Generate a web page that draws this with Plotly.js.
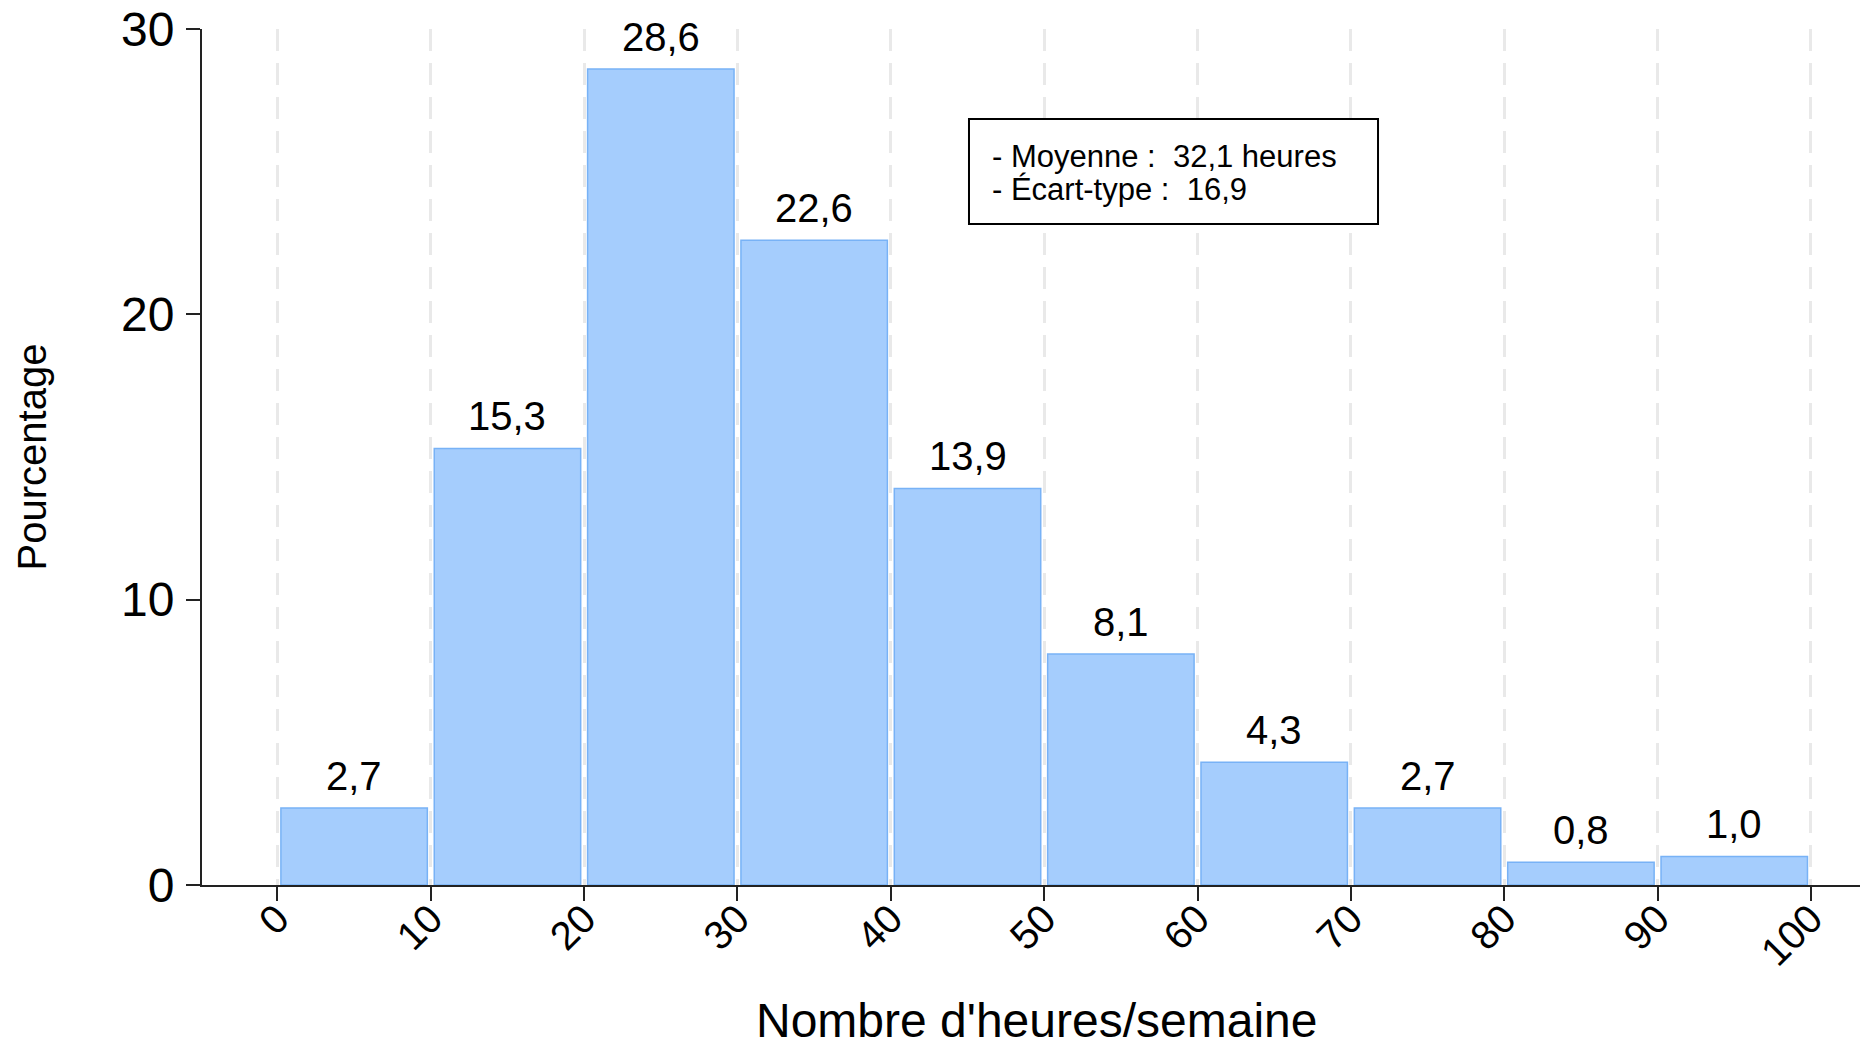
<!DOCTYPE html>
<html>
<head>
<meta charset="utf-8">
<script src="https://cdn.plot.ly/plotly-3.0.1.min.js"></script>
<style>html,body{margin:0;padding:0;background:#fff;}#chart{width:1860px;height:1049px;}</style>
</head>
<body>
<div id="chart"></div>
<script>
// Data
const binStarts = [0, 10, 20, 30, 40, 50, 60, 70, 80, 90];
const binWidth = 10;
const percentages = [2.7, 15.3, 28.6, 22.6, 13.9, 8.1, 4.3, 2.7, 0.8, 1.0];
const xTickValues = [0, 10, 20, 30, 40, 50, 60, 70, 80, 90, 100];
const yTickValues = [0, 10, 20, 30];
const statLines = ["- Moyenne :\u00a0 32,1 heures", "- Écart-type :\u00a0 16,9"];
const xTitle = "Nombre d'heures/semaine";
const yTitle = "Pourcentage";

const FONT = "Liberation Sans, Arial, sans-serif";
const mids = binStarts.map(s => s + binWidth / 2);
const labels = percentages.map(v => v.toFixed(1).replace('.', ','));

const trace = {
  type: 'bar',
  x: mids,
  y: percentages,
  width: binStarts.map(() => binWidth * 0.955),
  marker: { color: '#a5cdfd', line: { color: '#78b2f6', width: 1.5 } },
  cliponaxis: false,
  hoverinfo: 'skip'
};

const barLabels = mids.map((m, i) => ({
  text: labels[i], x: m, y: percentages[i], xref: 'x', yref: 'y',
  xanchor: 'center', yanchor: 'bottom', yshift: 9, showarrow: false,
  borderpad: 0,
  font: { family: FONT, size: 40, color: '#000' }
}));

const statAnnots = statLines.map((t, i) => ({
  text: t, xref: 'paper', yref: 'paper',
  x: 0.475, y: 0.8515 - i * 0.0385,
  xanchor: 'left', yanchor: 'middle', showarrow: false,
  font: { family: FONT, size: 31, color: '#000' }
}));

const xTitleAnnot = {
  text: xTitle, xref: 'paper', yref: 'paper',
  x: 0.5036, y: -0.1905, xanchor: 'center', yanchor: 'bottom', showarrow: false,
  borderpad: 0,
  font: { family: FONT, size: 48, color: '#000' }
};

const layout = {
  width: 1860, height: 1049,
  margin: { l: 202, r: 0, t: 29, b: 164, pad: 0 },
  paper_bgcolor: '#fff', plot_bgcolor: '#fff',
  showlegend: false,
  font: { family: FONT, color: '#000' },
  xaxis: {
    range: [-4.92, 103.2],
    tickvals: xTickValues,
    ticktext: xTickValues.map(String),
    tickangle: -45,
    tickfont: { family: FONT, size: 40, color: '#000' },
    ticks: 'outside', ticklen: 14, tickwidth: 2, tickcolor: '#222',
    ticklabelstandoff: -22,
    showline: true, linecolor: '#222', linewidth: 2,
    showgrid: true, gridcolor: '#e9e9e9', gridwidth: 3, griddash: '22px,12px',
    zeroline: false,
    automargin: false
  },
  yaxis: {
    range: [0, 30],
    tickvals: yTickValues,
    tickfont: { family: FONT, size: 48, color: '#000' },
    ticks: 'outside', ticklen: 14, tickwidth: 2, tickcolor: '#222',
    ticklabelstandoff: 2,
    showline: true, linecolor: '#222', linewidth: 2,
    showgrid: false, zeroline: false,
    automargin: false,
    title: { text: yTitle, font: { family: FONT, size: 40, color: '#000' }, standoff: 62 }
  },
  shapes: [{
    type: 'rect', xref: 'paper', yref: 'paper',
    x0: 0.4626, x1: 0.7093, y0: 0.7722, y1: 0.8949,
    line: { color: '#000', width: 2 }, fillcolor: 'rgba(255,255,255,1)', layer: 'above'
  }],
  annotations: barLabels.concat(statAnnots, [xTitleAnnot])
};

Plotly.newPlot('chart', [trace], layout, { staticPlot: true, displayModeBar: false });
</script>
</body>
</html>
